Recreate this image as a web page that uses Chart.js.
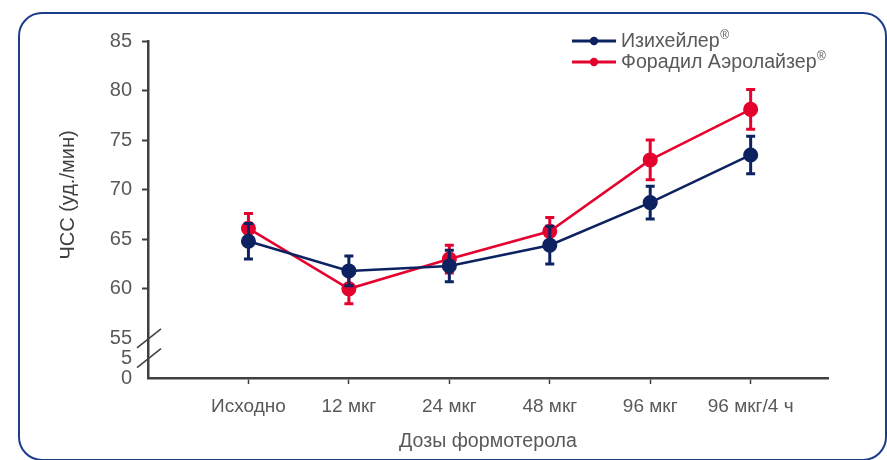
<!DOCTYPE html>
<html>
<head>
<meta charset="utf-8">
<script src="https://cdn.jsdelivr.net/npm/chart.js@4/dist/chart.umd.min.js"></script>
<style>
  html, body { margin: 0; padding: 0; background: #ffffff; }
  #wrap { position: relative; width: 887px; height: 460px; overflow: hidden; }
  #frame { position: absolute; left: 18px; top: 12px; width: 865px; height: 445px;
           border: 2.5px solid #1c3d8c; border-radius: 24px; pointer-events: none; }
  canvas { position: absolute; left: 0; top: 0; }
</style>
</head>
<body>
<div id="wrap">
  <canvas id="chart" width="887" height="460"></canvas>
  <div id="frame"></div>
</div>
<script>
// Dose steps along the x axis
const categories = ['Исходно', '12 мкг', '24 мкг', '48 мкг', '96 мкг', '96 мкг/4 ч'];

// Heart rate, beats/min: mean and error half-width per dose
const izihalerMean = [64.8, 61.8, 62.3, 64.4, 68.7, 73.5];
const izihalerErr  = [1.8, 1.5, 1.6, 1.9, 1.65, 1.9];
const foradilMean  = [66.1, 60.0, 63.0, 65.8, 73.0, 78.1];
const foradilErr   = [1.5, 1.5, 1.4, 1.4, 2.0, 2.0];

// Broken y axis: the 0 and 5 ticks sit just below the 55–85 range
const yTickValues = [51, 53, 55, 60, 65, 70, 75, 80, 85];
const yTickLabels = ['0', '5', '55', '60', '65', '70', '75', '80', '85'];

const seriesNames = ['Изихейлер', 'Форадил Аэролайзер'];
const BLUE = '#0d2260';
const RED = '#e4032e';
const AXIS = '#404040';
const TEXT = '#595959';
const FONT = '"Liberation Sans", Arial, sans-serif';

const toPoints = (arr) => arr.map((v, i) => ({ x: i + 1, y: v }));

const errorBars = {
  id: 'errorBars',
  afterDatasetDraw(chart, args) {
    const ds = chart.data.datasets[args.index];
    if (!ds.errors) return;
    const ys = chart.scales.y;
    const ctx = chart.ctx;
    ctx.save();
    ctx.strokeStyle = ds.borderColor;
    ctx.lineWidth = 3;
    args.meta.data.forEach((pt, i) => {
      const m = ds.data[i].y, e = ds.errors[i];
      const top = ys.getPixelForValue(m + e);
      const bot = ys.getPixelForValue(m - e);
      ctx.beginPath();
      ctx.moveTo(pt.x, top); ctx.lineTo(pt.x, bot);
      ctx.moveTo(pt.x - 4.5, top); ctx.lineTo(pt.x + 4.5, top);
      ctx.moveTo(pt.x - 4.5, bot); ctx.lineTo(pt.x + 4.5, bot);
      ctx.stroke();
    });
    ctx.restore();
  }
};

const decorations = {
  id: 'decorations',
  afterDraw(chart) {
    const ctx = chart.ctx;
    const xs = chart.scales.x, ys = chart.scales.y;
    const ax = xs.getPixelForValue(0);
    ctx.save();

    // axis break marks
    ctx.strokeStyle = AXIS;
    ctx.lineWidth = 1.5;
    [55, 53].forEach(v => {
      const py = ys.getPixelForValue(v);
      ctx.beginPath();
      ctx.moveTo(ax - 11, py + 9.5);
      ctx.lineTo(ax + 13, py - 9.5);
      ctx.stroke();
    });

    // y axis title
    ctx.fillStyle = AXIS;
    ctx.font = '20px ' + FONT;
    ctx.textAlign = 'center';
    ctx.textBaseline = 'middle';
    ctx.translate(68, 195);
    ctx.rotate(-Math.PI / 2);
    ctx.fillText('ЧСС (уд./мин)', 0, 0);
    ctx.setTransform(1, 0, 0, 1, 0, 0);

    // legend
    chart.data.datasets.forEach((ds, i) => {
      const y = 41 + i * 21;
      ctx.strokeStyle = ds.borderColor;
      ctx.fillStyle = ds.borderColor;
      ctx.lineWidth = 3;
      ctx.beginPath();
      ctx.moveTo(572, y); ctx.lineTo(616, y);
      ctx.stroke();
      ctx.beginPath();
      ctx.arc(594, y, 4.2, 0, Math.PI * 2);
      ctx.fill();
      ctx.fillStyle = TEXT;
      ctx.font = '19.6px ' + FONT;
      ctx.textAlign = 'left';
      ctx.textBaseline = 'middle';
      ctx.fillText(ds.label, 621, y + 1);
      const w = ctx.measureText(ds.label).width;
      ctx.font = '12px ' + FONT;
      ctx.fillText('®', 621 + w + 0.5, y - 5);
    });
    ctx.restore();
  }
};

new Chart(document.getElementById('chart'), {
  type: 'line',
  data: {
    datasets: [
      {
        label: seriesNames[0],
        data: toPoints(izihalerMean),
        errors: izihalerErr,
        borderColor: BLUE,
        backgroundColor: BLUE,
        pointBackgroundColor: BLUE,
        pointBorderColor: BLUE,
        borderWidth: 2.5,
        pointRadius: 6.3,
        tension: 0
      },
      {
        label: seriesNames[1],
        data: toPoints(foradilMean),
        errors: foradilErr,
        borderColor: RED,
        backgroundColor: RED,
        pointBackgroundColor: RED,
        pointBorderColor: RED,
        borderWidth: 2.5,
        pointRadius: 6.3,
        tension: 0
      }
    ]
  },
  options: {
    responsive: false,
    animation: false,
    devicePixelRatio: 1,
    layout: { padding: { top: 41, right: 59, bottom: 0, left: 0 } },
    plugins: {
      legend: { display: false },
      tooltip: { enabled: false }
    },
    scales: {
      x: {
        type: 'linear',
        min: 0,
        max: 6.77,
        afterBuildTicks: (scale) => {
          scale.ticks = categories.map((c, i) => ({ value: i + 1 }));
        },
        afterFit: (scale) => { scale.height = 82; },
        ticks: {
          autoSkip: false,
          maxRotation: 0,
          padding: 11,
          color: TEXT,
          font: { family: FONT, size: 19 },
          callback: (v) => categories[v - 1] ?? ''
        },
        grid: { drawOnChartArea: false, tickLength: 6, tickColor: AXIS, tickWidth: 1.5 },
        border: { display: true, color: AXIS, width: 2.5 },
        title: {
          display: true,
          text: 'Дозы формотерола',
          color: TEXT,
          font: { family: FONT, size: 19.6 },
          padding: { top: 4, bottom: 7 }
        }
      },
      y: {
        min: 51,
        max: 85,
        afterBuildTicks: (scale) => {
          scale.ticks = yTickValues.map(v => ({ value: v }));
        },
        afterFit: (scale) => { scale.width = 148; },
        ticks: {
          autoSkip: false,
          padding: 10,
          color: TEXT,
          font: { family: FONT, size: 20 },
          callback: (v) => yTickLabels[yTickValues.indexOf(v)]
        },
        grid: {
          drawOnChartArea: false,
          tickLength: 6,
          tickWidth: 2,
          tickColor: (ctx) => (ctx.tick && ctx.tick.value >= 60) ? AXIS : 'rgba(0,0,0,0)'
        },
        border: { display: true, color: AXIS, width: 2.5 }
      }
    }
  },
  plugins: [errorBars, decorations]
});
</script>
</body>
</html>
